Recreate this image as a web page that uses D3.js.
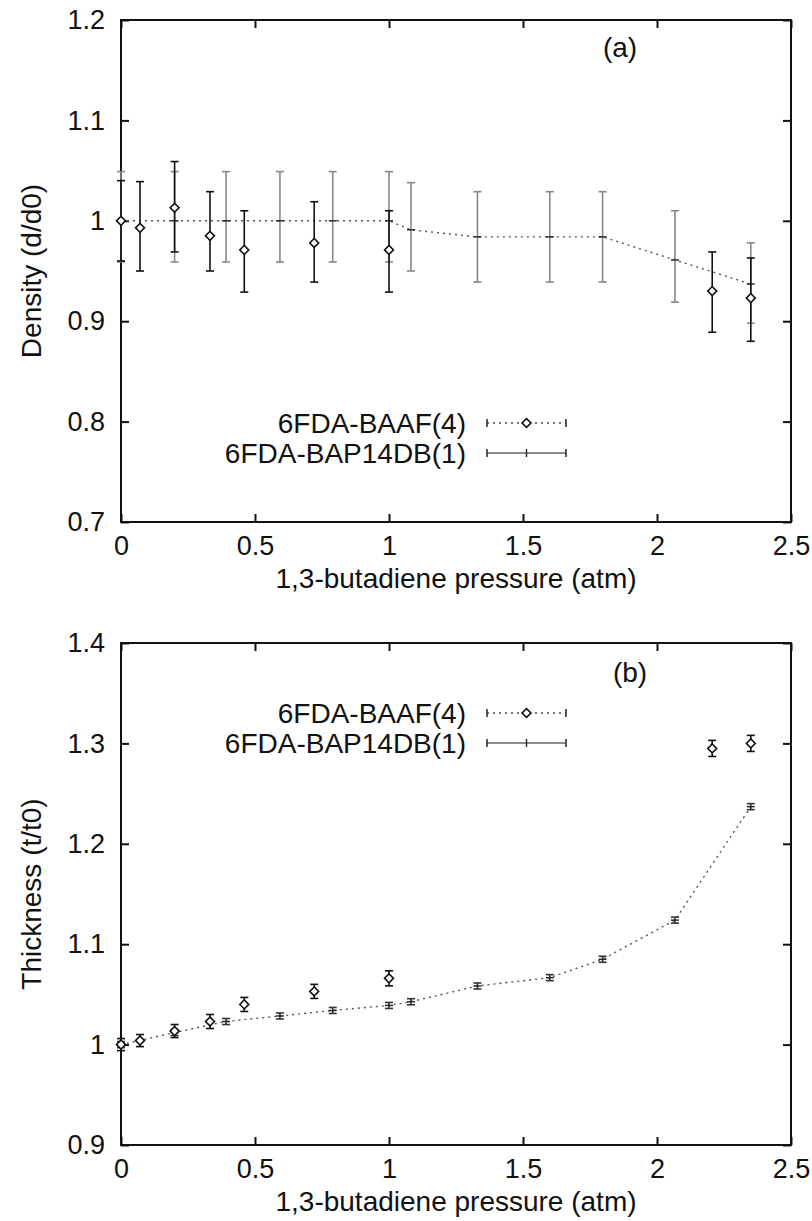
<!DOCTYPE html>
<html>
<head>
<meta charset="utf-8">
<script src="https://cdn.jsdelivr.net/npm/d3@7"></script>
<style>
  body { margin: 0; background: #fff; }
  svg { display: block; font-family: "Liberation Sans", Arial, sans-serif; }
</style>
</head>
<body>
<div id="chart"></div>
<script>
// panel (a): density vs pressure
const densBaafP    = [0, 0.071, 0.2, 0.332, 0.46, 0.721, 1.0, 2.206, 2.35];
const densBaafVal  = [1.0, 0.993, 1.013, 0.985, 0.971, 0.978, 0.971, 0.930, 0.923];
const densBaafLow  = [0.960, 0.950, 0.969, 0.950, 0.929, 0.939, 0.929, 0.889, 0.880];
const densBaafHigh = [1.040, 1.039, 1.059, 1.029, 1.010, 1.019, 1.010, 0.969, 0.963];

const densBapP    = [0, 0.2, 0.392, 0.593, 0.79, 1.0, 1.082, 1.33, 1.60, 1.797, 2.067, 2.35];
const densBapVal  = [1.0, 1.0, 1.0, 1.0, 1.0, 1.0, 0.991, 0.984, 0.984, 0.984, 0.961, 0.937];
const densBapLow  = [0.959, 0.959, 0.959, 0.959, 0.959, 0.959, 0.950, 0.939, 0.939, 0.939, 0.919, 0.898];
const densBapHigh = [1.049, 1.049, 1.049, 1.049, 1.049, 1.049, 1.038, 1.029, 1.029, 1.029, 1.010, 0.978];

// panel (b): thickness vs pressure
const thickBaafP    = [0, 0.071, 0.2, 0.332, 0.46, 0.721, 1.0, 2.206, 2.35];
const thickBaafVal  = [1.0, 1.004, 1.0135, 1.023, 1.040, 1.053, 1.066, 1.295, 1.300];
const thickBaafLow  = [0.994, 0.998, 1.007, 1.016, 1.033, 1.046, 1.0585, 1.287, 1.292];
const thickBaafHigh = [1.006, 1.010, 1.020, 1.030, 1.047, 1.060, 1.0735, 1.303, 1.308];

const thickBapP    = [0, 0.2, 0.392, 0.593, 0.79, 1.0, 1.082, 1.33, 1.60, 1.797, 2.067, 2.35];
const thickBapVal  = [1.0, 1.012, 1.023, 1.0285, 1.034, 1.039, 1.0427, 1.0584, 1.0667, 1.085, 1.124, 1.237];
const thickBapLow  = [0.997, 1.009, 1.020, 1.0255, 1.031, 1.036, 1.0397, 1.0554, 1.0637, 1.082, 1.121, 1.234];
const thickBapHigh = [1.003, 1.015, 1.026, 1.0315, 1.037, 1.042, 1.0457, 1.0614, 1.0697, 1.088, 1.127, 1.240];

const xTicks = [0, 0.5, 1, 1.5, 2, 2.5];
const xTickLabels = ["0", "0.5", "1", "1.5", "2", "2.5"];
const densTicks = [0.7, 0.8, 0.9, 1.0, 1.1, 1.2];
const densTickLabels = ["0.7", "0.8", "0.9", "1", "1.1", "1.2"];
const thickTicks = [0.9, 1.0, 1.1, 1.2, 1.3, 1.4];
const thickTickLabels = ["0.9", "1", "1.1", "1.2", "1.3", "1.4"];

const seriesNames = ["6FDA-BAAF(4)", "6FDA-BAP14DB(1)"];
const xTitle = "1,3-butadiene pressure (atm)";

const zip = (p, v, lo, hi) => p.map((x, i) => ({ x, y: v[i], lo: lo[i], hi: hi[i] }));

const width = 812, height = 1221;
const svg = d3.select("#chart").append("svg").attr("width", width).attr("height", height);

function drawPanel(cfg) {
    const { top, bottom, left, right } = cfg.box;
    const x = d3.scaleLinear().domain([0, 2.5]).range([left, right]);
    const y = d3.scaleLinear().domain(cfg.yDomain).range([bottom, top]);
    const g = svg.append("g");
    const tick = 8;
    const fs = 28;

    // axes, gnuplot style: inward ticks, mirrored
    g.append("g").attr("transform", `translate(0,${bottom})`)
        .call(d3.axisBottom(x).tickValues(xTicks).tickSize(-tick).tickPadding(14)
            .tickFormat((d, i) => xTickLabels[i]))
        .call(a => a.select(".domain").remove());
    g.append("g").attr("transform", `translate(0,${top})`)
        .call(d3.axisTop(x).tickValues(xTicks).tickSize(-tick).tickFormat(""))
        .call(a => a.select(".domain").remove());
    g.append("g").attr("transform", `translate(${left},0)`)
        .call(d3.axisLeft(y).tickValues(cfg.yTicks).tickSize(-tick).tickPadding(16)
            .tickFormat((d, i) => cfg.yTickLabels[i]))
        .call(a => a.select(".domain").remove());
    g.append("g").attr("transform", `translate(${right},0)`)
        .call(d3.axisRight(y).tickValues(cfg.yTicks).tickSize(-tick).tickFormat(""))
        .call(a => a.select(".domain").remove());
    g.selectAll(".tick line").attr("stroke", "#111").attr("stroke-width", 2);
    g.selectAll(".tick text").attr("font-size", 27).attr("fill", "#111")
        .attr("font-family", "Liberation Sans, Arial, sans-serif");

    g.append("rect")
        .attr("x", left).attr("y", top)
        .attr("width", right - left).attr("height", bottom - top)
        .attr("fill", "none").attr("stroke", "#111").attr("stroke-width", 2);

    // titles
    g.append("text")
        .attr("x", (left + right) / 2).attr("y", bottom + 66)
        .attr("text-anchor", "middle").attr("font-size", fs).attr("fill", "#111")
        .text(xTitle);
    g.append("text")
        .attr("transform", `translate(41,${(top + bottom) / 2}) rotate(-90)`)
        .attr("text-anchor", "middle").attr("font-size", fs).attr("fill", "#111")
        .text(cfg.yTitle);
    g.append("text")
        .attr("x", cfg.tag[0]).attr("y", cfg.tag[1])
        .attr("text-anchor", "middle").attr("font-size", fs).attr("fill", "#111")
        .text(cfg.tagText);

    const capW = 4;
    const drawBars = (data, color, sw) => {
        const bars = g.append("g").attr("stroke", color).attr("stroke-width", sw).attr("fill", "none");
        bars.selectAll("line.v").data(data).join("line").attr("class", "v")
            .attr("x1", d => x(d.x)).attr("x2", d => x(d.x))
            .attr("y1", d => y(d.lo)).attr("y2", d => y(d.hi));
        bars.selectAll("line.lo").data(data).join("line").attr("class", "lo")
            .attr("x1", d => x(d.x) - capW).attr("x2", d => x(d.x) + capW)
            .attr("y1", d => y(d.lo)).attr("y2", d => y(d.lo));
        bars.selectAll("line.hi").data(data).join("line").attr("class", "hi")
            .attr("x1", d => x(d.x) - capW).attr("x2", d => x(d.x) + capW)
            .attr("y1", d => y(d.hi)).attr("y2", d => y(d.hi));
    };

    // BAP14DB: dotted connecting line + bars + small cross
    const bap = cfg.bap;
    g.append("path").datum(bap)
        .attr("fill", "none").attr("stroke", "#555").attr("stroke-width", 1.4)
        .attr("stroke-dasharray", "2,4")
        .attr("d", d3.line().x(d => x(d.x)).y(d => y(d.y)));
    drawBars(bap, cfg.bapColor, 1.6);
    g.append("g").attr("stroke", "#222").attr("stroke-width", 1.4)
        .selectAll("line").data(bap).join("line")
        .attr("x1", d => x(d.x) - 4).attr("x2", d => x(d.x) + 4)
        .attr("y1", d => y(d.y)).attr("y2", d => y(d.y));

    // BAAF: diamonds with bars
    const baaf = cfg.baaf;
    drawBars(baaf, "#111", 1.6);
    const diamond = d3.symbol().type(d3.symbolSquare).size(40);
    g.append("g").selectAll("path").data(baaf).join("path")
        .attr("d", diamond)
        .attr("transform", d => `translate(${x(d.x)},${y(d.y)}) rotate(45)`)
        .attr("fill", "#fff").attr("stroke", "#111").attr("stroke-width", 1.6);

    // legend
    const lx0 = 487, lx1 = 566, textX = 466;
    const rows = [
        { name: seriesNames[0], y: cfg.legendY[0], dash: "2,4", color: "#444", mark: "diamond" },
        { name: seriesNames[1], y: cfg.legendY[1], dash: null, color: "#666", mark: "cross" },
    ];
    rows.forEach(r => {
        g.append("text").attr("x", textX).attr("y", r.y + 10)
            .attr("text-anchor", "end").attr("font-size", fs).attr("fill", "#111")
            .text(r.name);
        g.append("line").attr("x1", lx0).attr("x2", lx1).attr("y1", r.y).attr("y2", r.y)
            .attr("stroke", r.color).attr("stroke-width", 1.5)
            .attr("stroke-dasharray", r.dash);
        [lx0, lx1].forEach(cx => g.append("line")
            .attr("x1", cx).attr("x2", cx).attr("y1", r.y - 4).attr("y2", r.y + 4)
            .attr("stroke", "#222").attr("stroke-width", 1.5));
        const mx = (lx0 + lx1) / 2;
        if (r.mark === "diamond") {
            g.append("path").attr("d", diamond)
                .attr("transform", `translate(${mx},${r.y}) rotate(45)`)
                .attr("fill", "#fff").attr("stroke", "#111").attr("stroke-width", 1.6);
        } else {
            g.append("line").attr("x1", mx).attr("x2", mx).attr("y1", r.y - 4).attr("y2", r.y + 4)
                .attr("stroke", "#222").attr("stroke-width", 1.4);
        }
    });
}

drawPanel({
    box: { top: 20, bottom: 522, left: 121, right: 791 },
    yDomain: [0.7, 1.2],
    yTicks: densTicks, yTickLabels: densTickLabels,
    yTitle: "Density (d/d0)",
    tag: [620, 57], tagText: "(a)",
    baaf: zip(densBaafP, densBaafVal, densBaafLow, densBaafHigh),
    bap: zip(densBapP, densBapVal, densBapLow, densBapHigh),
    bapColor: "#888",
    legendY: [423, 453],
});

drawPanel({
    box: { top: 643, bottom: 1145, left: 121, right: 791 },
    yDomain: [0.9, 1.4],
    yTicks: thickTicks, yTickLabels: thickTickLabels,
    yTitle: "Thickness (t/t0)",
    tag: [630, 682], tagText: "(b)",
    baaf: zip(thickBaafP, thickBaafVal, thickBaafLow, thickBaafHigh),
    bap: zip(thickBapP, thickBapVal, thickBapLow, thickBapHigh),
    bapColor: "#333",
    legendY: [713, 743],
});
</script>
</body>
</html>
